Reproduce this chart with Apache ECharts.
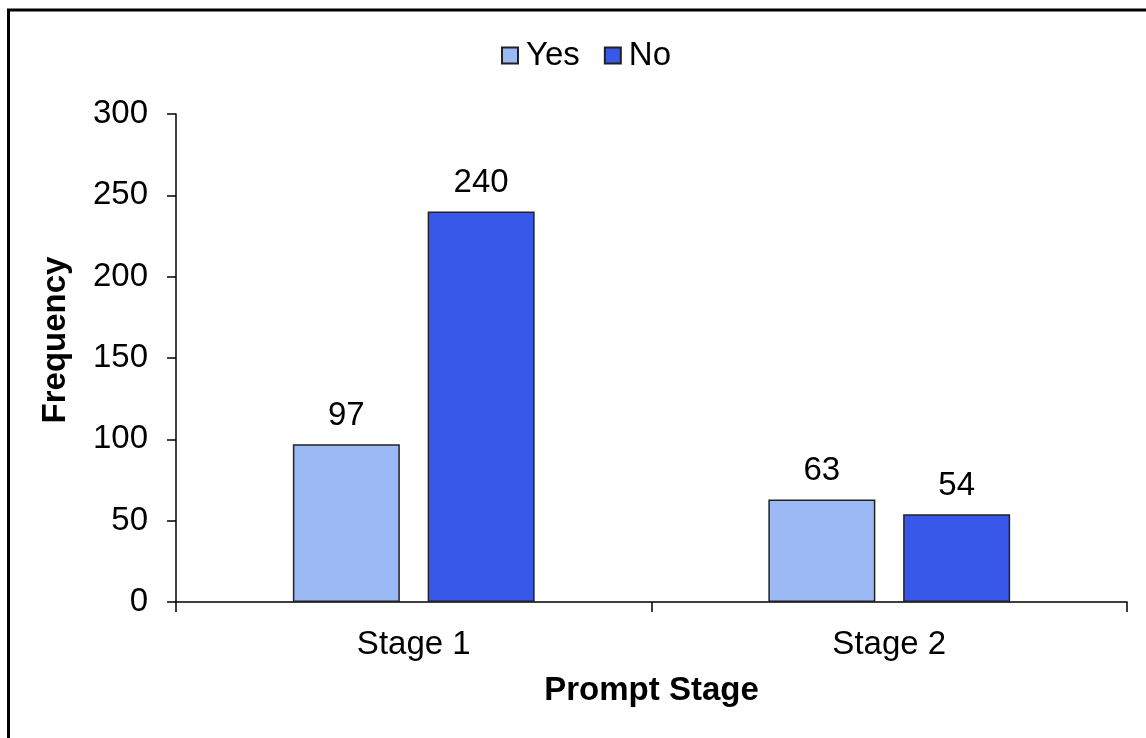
<!DOCTYPE html>
<html>
<head>
<meta charset="utf-8">
<script src="https://cdn.jsdelivr.net/npm/echarts@6/dist/echarts.min.js"></script>
<style>
  html, body { margin: 0; padding: 0; background: #fff; }
  #chart { width: 1146px; height: 738px; }
</style>
</head>
<body>
<div id="chart"></div>
<script>
// Prompt-stage response counts
const stages = ['Stage 1', 'Stage 2'];
const yesCounts = [97, 63];
const noCounts = [240, 54];
const seriesNames = ['Yes', 'No'];

const FONT = '"Liberation Sans", Arial, sans-serif';
const FS = 33;
const chart = echarts.init(document.getElementById('chart'), null, { renderer: 'canvas' });

const barLabel = {
  show: true,
  position: 'top',
  distance: 12,
  color: '#000',
  fontFamily: FONT,
  fontSize: FS
};

chart.setOption({
  animation: false,
  backgroundColor: '#fff',
  textStyle: { fontFamily: FONT },
  graphic: [{
    type: 'rect',
    shape: { x: 8.5, y: 10, width: 1200, height: 800 },
    style: { fill: 'none', stroke: '#000', lineWidth: 3 },
    silent: true
  }],
  legend: {
    left: 496,
    top: 34,
    itemWidth: 16,
    itemHeight: 16,
    itemGap: 24,
    textStyle: { fontFamily: FONT, fontSize: FS, color: '#000', padding: [0, 0, 0, 3] },
    data: seriesNames.map(n => ({ name: n, icon: 'rect' }))
  },
  grid: { left: 176, right: 19, top: 114, bottom: 136, containLabel: false },
  xAxis: {
    type: 'category',
    data: stages,
    boundaryGap: true,
    name: 'Prompt Stage',
    nameLocation: 'middle',
    nameGap: 72,
    nameTextStyle: { fontFamily: FONT, fontSize: FS, fontWeight: 'bold', color: '#000' },
    axisLine: { lineStyle: { color: '#000', width: 1.5 } },
    axisTick: { show: true, length: 10, inside: false, lineStyle: { color: '#000', width: 1.5 } },
    axisLabel: { color: '#000', fontFamily: FONT, fontSize: FS, margin: 26 },
    splitLine: { show: false }
  },
  yAxis: {
    type: 'value',
    min: 0,
    max: 300,
    interval: 50,
    name: 'Frequency',
    nameLocation: 'middle',
    nameRotate: 90,
    nameGap: 104,
    nameTextStyle: { fontFamily: FONT, fontSize: FS, fontWeight: 'bold', color: '#000', padding: [0, 0, 0, 36] },
    axisLine: { show: true, lineStyle: { color: '#000', width: 1.5 } },
    axisTick: { show: true, length: 9, inside: false, lineStyle: { color: '#000', width: 1.5 } },
    axisLabel: { color: '#000', fontFamily: FONT, fontSize: FS, margin: 28 },
    splitLine: { show: false }
  },
  series: [
    {
      name: seriesNames[0],
      type: 'bar',
      data: yesCounts,
      barWidth: '22.5%',
      barGap: '26%',
      itemStyle: { color: '#9BB9F5', borderColor: '#222', borderWidth: 1.5 },
      label: barLabel
    },
    {
      name: seriesNames[1],
      type: 'bar',
      data: noCounts,
      barWidth: '22.5%',
      itemStyle: { color: '#3858E9', borderColor: '#222', borderWidth: 1.5 },
      label: barLabel
    }
  ]
});
</script>
</body>
</html>
